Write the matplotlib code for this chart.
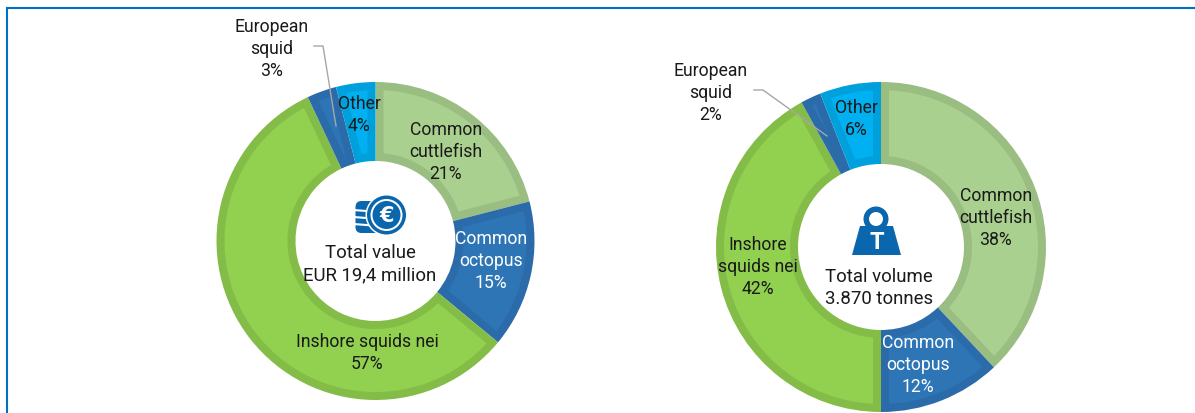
import numpy as np
import matplotlib
matplotlib.use("Agg")
from matplotlib import pyplot as plt
from matplotlib.patches import Circle, Polygon, FancyBboxPatch

plt.rcParams['font.family'] = ['Roboto', 'DejaVu Sans']

categories = ["Common cuttlefish", "Common octopus", "Inshore squids nei", "European squid", "Other"]
value_shares = [21, 15, 57, 3, 4]
volume_shares = [38, 12, 42, 2, 6]

fill_colors = ["#A9D08E", "#2E75B6", "#92D050", "#2E75B6", "#00B0F0"]
edge_colors = ["#9ABD82", "#2B6BAA", "#84BC48", "#2B6BAA", "#00A0DC"]

W, H = 1195, 414
BLUE = "#0A67AE"
FONT = 12.7


def py(y):
    # pixel rows count from the top, the axes counts from the bottom
    return H - y


def inset_sector(wedge, inner, b):
    """polygon of a ring sector shrunk by b pixels on every side."""
    outer = wedge.r
    t1, t2 = np.radians(wedge.theta1), np.radians(wedge.theta2)
    half = (t2 - t1) / 2
    r_out = outer - b
    r_in = max(inner + b, b / np.sin(half))
    out_off = np.arcsin(b / r_out)
    in_off = np.arcsin(b / r_in)
    a_out = np.linspace(t1 + out_off, t2 - out_off, 120)
    a_in = np.linspace(t2 - in_off, t1 + in_off, 120)
    xs = np.r_[r_out * np.cos(a_out), r_in * np.cos(a_in)] + wedge.center[0]
    ys = np.r_[r_out * np.sin(a_out), r_in * np.sin(a_in)] + wedge.center[1]
    return np.column_stack([xs, ys])


def donut(ax, shares, center, radius, inner):
    wedges, _ = ax.pie(shares, center=center, radius=radius, startangle=90, counterclock=False,
                       colors=edge_colors, frame=True,
                       wedgeprops=dict(width=radius - inner, linewidth=0))
    for wedge, color in zip(wedges, fill_colors):
        ax.add_patch(Polygon(inset_sector(wedge, inner, 8), closed=True, fc=color, ec="none", zorder=2))


def label(ax, x, y, text, color="#1A1A1A", size=FONT):
    ax.text(x, py(y), text, ha="center", va="center", fontsize=size, color=color,
            linespacing=1.32, zorder=5)


def coins_icon(ax, x, y):
    # stack of coins behind the euro coin
    ax.add_patch(FancyBboxPatch((x - 31, py(y + 18)), 31, 32, boxstyle="round,pad=0,rounding_size=6",
                                fc=BLUE, ec="none", zorder=3))
    for offset in [-5, 2, 9]:
        ax.plot([x - 33, x - 14], [py(y + offset), py(y + offset + 1.5)], color="white", lw=1.5, zorder=4)
    ax.add_patch(Circle((x, py(y)), 21, fc="white", ec="none", zorder=4))
    ax.add_patch(Circle((x, py(y)), 19.5, fc=BLUE, ec="none", zorder=4))
    ax.add_patch(Circle((x, py(y)), 16, fc="white", ec="none", zorder=4))
    ax.add_patch(Circle((x, py(y)), 14, fc=BLUE, ec="none", zorder=4))
    ax.text(x, py(y), "€", ha="center", va="center", color="white", fontsize=15, fontweight="bold",
            family="DejaVu Sans", zorder=5)


def weight_icon(ax, x, y):
    ax.add_patch(Circle((x, py(y)), 12.5, fc=BLUE, ec="none", zorder=3))
    ax.add_patch(Circle((x, py(y)), 7, fc="white", ec="none", zorder=4))
    ax.add_patch(Polygon([(x - 24, py(y + 36)), (x + 25, py(y + 36)), (x + 17, py(y + 7)), (x - 16, py(y + 7))],
                         closed=True, fc=BLUE, ec="none", zorder=4))
    ax.text(x + 0.5, py(y + 23), "T", ha="center", va="center", color="white", fontsize=17, fontweight="bold",
            family="Roboto", zorder=5)


fig = plt.figure(figsize=(W / 100, H / 100), dpi=100)
ax = fig.add_axes([0, 0, 1, 1])

donut(ax, value_shares, (375.5, py(242)), 159, 80)
donut(ax, volume_shares, (881, py(248)), 165, 83)

ax.set_xlim(0, W)
ax.set_ylim(0, H)
ax.set_aspect("equal")
ax.axis("off")

# frame is open at the bottom
ax.plot([7, 7], [0, py(9)], color="#0070C0", lw=1.5, solid_capstyle="projecting")
ax.plot([7, W], [py(9), py(9)], color="#0070C0", lw=1.5, solid_capstyle="butt")

# leader lines of the small slices
ax.plot([314, 323, 336], [py(47), py(47), py(127)], color="#A6A6A6", lw=1, zorder=4)
ax.plot([754, 763, 827], [py(91), py(91), py(137)], color="#A6A6A6", lw=1, zorder=4)

label(ax, 272, 49, f"European\nsquid\n{value_shares[3]}%")
label(ax, 359, 115, f"Other\n{value_shares[4]}%")
label(ax, 446, 152, f"Common\ncuttlefish\n{value_shares[0]}%")
label(ax, 491, 261, f"Common\noctopus\n{value_shares[1]}%", color="white")
label(ax, 367, 353, f"Inshore squids nei\n{value_shares[2]}%")
label(ax, 370, 264.5, "Total value\nEUR 19,4 million", size=13.4)

label(ax, 711, 93, f"European\nsquid\n{volume_shares[3]}%")
label(ax, 856, 119, f"Other\n{volume_shares[4]}%")
label(ax, 996, 218, f"Common\ncuttlefish\n{volume_shares[0]}%")
label(ax, 918, 365, f"Common\noctopus\n{volume_shares[1]}%", color="white")
label(ax, 758, 267, f"Inshore\nsquids nei\n{volume_shares[2]}%")
label(ax, 879, 288, "Total volume\n3.870 tonnes", size=13.4)

coins_icon(ax, 386.5, 216)
weight_icon(ax, 876, 220)

fig.savefig("out.png", dpi=100)
